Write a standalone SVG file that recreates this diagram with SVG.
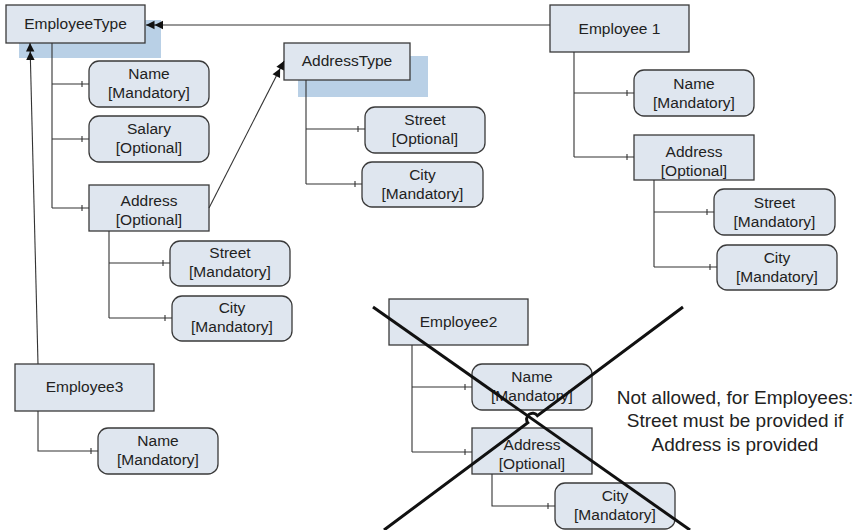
<svg xmlns="http://www.w3.org/2000/svg" width="859" height="530" viewBox="0 0 859 530">
<defs>
<style>
.bg{fill:#ffffff}
.sh{fill:#b9d0e6}
.box{fill:#dfe6ef;stroke:#3a3a3a;stroke-width:1.3}
.t{font-family:"Liberation Sans",Arial,sans-serif;font-size:15.5px;fill:#222;text-anchor:middle}
.note{font-family:"Liberation Sans",Arial,sans-serif;font-size:19px;fill:#222;text-anchor:middle}
.ln{fill:none;stroke:#333;stroke-width:1.1}
.ar{fill:none;stroke:#333;stroke-width:1.1;marker-end:url(#dbl)}
.x{fill:none;stroke:#111;stroke-width:3}
</style>
<marker id="dbl" viewBox="-18 -5 19 10" refX="0" refY="0" markerWidth="19" markerHeight="10" markerUnits="userSpaceOnUse" orient="auto">
<path d="M0,0 L-8.5,-4.2 L-8.5,4.2 Z M-8.5,0 L-17,-4.2 L-17,4.2 Z" fill="#111"/>
</marker>
</defs>
<rect class="bg" x="0" y="0" width="859" height="530"/>

<g id="EmployeeType">
<rect class="sh" x="19" y="20" width="142" height="38"/>
<rect class="box" x="6" y="5" width="139" height="38"/>
<text class="t" x="75.5" y="29">EmployeeType</text>
</g>
<g id="EmpType-Name">
<rect class="box" x="89" y="61" width="120" height="46" rx="10"/>
<text class="t" x="149" y="79">Name</text>
<text class="t" x="149" y="98">[Mandatory]</text>
</g>
<g id="EmpType-Salary">
<rect class="box" x="89" y="116" width="120" height="46" rx="10"/>
<text class="t" x="149" y="134">Salary</text>
<text class="t" x="149" y="153">[Optional]</text>
</g>
<g id="EmpType-Address">
<rect class="box" x="89" y="185" width="120" height="46"/>
<text class="t" x="149" y="206">Address</text>
<text class="t" x="149" y="225">[Optional]</text>
</g>
<g id="EmpType-Street">
<rect class="box" x="170" y="241" width="120" height="45" rx="10"/>
<text class="t" x="230" y="258">Street</text>
<text class="t" x="230" y="277">[Mandatory]</text>
</g>
<g id="EmpType-City">
<rect class="box" x="172" y="296" width="120" height="45" rx="10"/>
<text class="t" x="232" y="313">City</text>
<text class="t" x="232" y="332">[Mandatory]</text>
</g>

<g id="AddressType">
<rect class="sh" x="298" y="56" width="130" height="41"/>
<rect class="box" x="284" y="43" width="126" height="37"/>
<text class="t" x="347" y="66">AddressType</text>
</g>
<g id="AddrType-Street">
<rect class="box" x="365" y="107" width="120" height="46" rx="10"/>
<text class="t" x="425" y="125">Street</text>
<text class="t" x="425" y="144">[Optional]</text>
</g>
<g id="AddrType-City">
<rect class="box" x="362" y="162" width="121" height="45" rx="10"/>
<text class="t" x="422.5" y="180">City</text>
<text class="t" x="422.5" y="199">[Mandatory]</text>
</g>

<g id="Employee1">
<rect class="box" x="550" y="5" width="139" height="47"/>
<text class="t" x="619.5" y="34">Employee 1</text>
</g>
<g id="E1-Name">
<rect class="box" x="634" y="70" width="120" height="46" rx="10"/>
<text class="t" x="694" y="89">Name</text>
<text class="t" x="694" y="108">[Mandatory]</text>
</g>
<g id="E1-Address">
<rect class="box" x="634" y="135" width="120" height="45"/>
<text class="t" x="694" y="157">Address</text>
<text class="t" x="694" y="176">[Optional]</text>
</g>
<g id="E1-Street">
<rect class="box" x="714" y="189" width="121" height="46" rx="10"/>
<text class="t" x="774.5" y="208">Street</text>
<text class="t" x="774.5" y="227">[Mandatory]</text>
</g>
<g id="E1-City">
<rect class="box" x="717" y="245" width="120" height="45" rx="10"/>
<text class="t" x="777" y="263">City</text>
<text class="t" x="777" y="282">[Mandatory]</text>
</g>

<g id="Employee2">
<rect class="box" x="389" y="299" width="139" height="46"/>
<text class="t" x="458.5" y="327">Employee2</text>
</g>
<g id="E2-Name">
<rect class="box" x="472" y="364" width="120" height="46" rx="10"/>
<text class="t" x="532" y="382">Name</text>
<text class="t" x="532" y="401">[Mandatory]</text>
</g>
<g id="E2-Address">
<rect class="box" x="472" y="428" width="120" height="46"/>
<text class="t" x="532" y="450">Address</text>
<text class="t" x="532" y="469">[Optional]</text>
</g>
<g id="E2-City">
<rect class="box" x="555" y="483" width="120" height="46" rx="10"/>
<text class="t" x="615" y="501">City</text>
<text class="t" x="615" y="520">[Mandatory]</text>
</g>

<g id="Employee3">
<rect class="box" x="15" y="364" width="139" height="47"/>
<text class="t" x="84.5" y="392">Employee3</text>
</g>
<g id="E3-Name">
<rect class="box" x="98" y="428" width="120" height="46" rx="10"/>
<text class="t" x="158" y="446">Name</text>
<text class="t" x="158" y="465">[Mandatory]</text>
</g>

<g id="connectors">
<path class="ln" d="M52,43 V208 M52,84 H89 M52,139 H89 M52,208 H89 M82,81 V87 M82,136 V142 M82,205 V211"/>
<path class="ln" d="M109,231 V318 M109,263 H170 M109,318 H172 M163,260 V266 M165,315 V321"/>
<path class="ln" d="M306,80 V184 M306,129 H365 M306,184 H362 M358,126 V132 M355,181 V187"/>
<path class="ln" d="M574,52 V157 M574,93 H634 M574,157 H634 M627,90 V96 M627,154 V160"/>
<path class="ln" d="M654,180 V267 M654,212 H714 M654,267 H717 M707,209 V215 M710,264 V270"/>
<path class="ln" d="M412,345 V452 M412,387 H472 M412,452 H472 M465,384 V390 M465,449 V455"/>
<path class="ln" d="M492,474 V506 H555 M548,503 V509"/>
<path class="ln" d="M38,411 V451 H98 M91,448 V454"/>
<path class="ar" d="M550,25 H146"/>
<path class="ar" d="M38,364 L30,43"/>
<path class="ar" d="M209,208 L284,61"/>
</g>

<g id="cross">
<path class="x" d="M373,307 L690,530"/>
<path class="x" d="M683,307 L537.4,415.6 A6,6 0 0 0 527.8,422.8 L384,530"/>
</g>

<g id="note">
<text class="note" x="735" y="404">Not allowed, for Employees:</text>
<text class="note" x="735" y="427">Street must be provided if</text>
<text class="note" x="735" y="451">Address is provided</text>
</g>
</svg>
